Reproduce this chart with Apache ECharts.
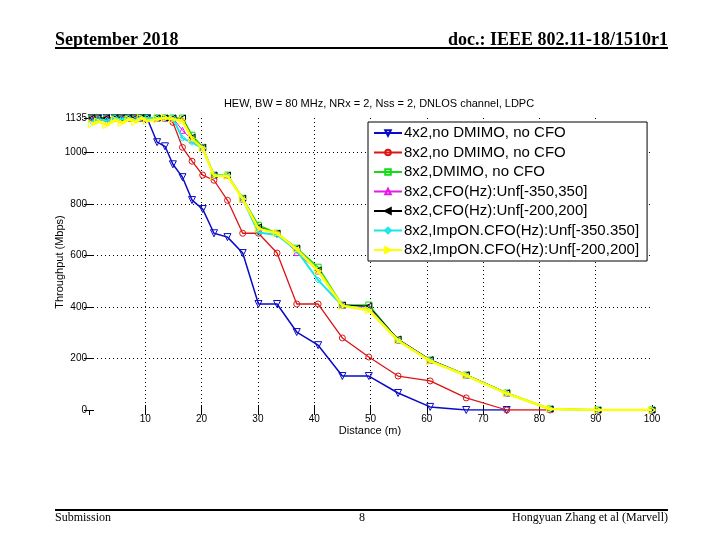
<!DOCTYPE html>
<html>
<head>
<meta charset="utf-8">
<script src="https://cdn.jsdelivr.net/npm/echarts@6/dist/echarts.min.js"></script>
<style>
html,body{margin:0;padding:0;background:#fff;}
#c{width:720px;height:540px;}
</style>
</head>
<body>
<div id="c"></div>
<script>
// ---- data ----
const distances = [0.5,1.6,3.1,4.6,5.8,7.0,8.2,9.2,10.3,12.1,13.5,14.9,16.6,18.3,20.2,22.2,24.6,27.3,30.1,33.4,36.9,40.7,45.0,49.7,54.9,60.6,67.0,74.2,81.9,90.4,100];
const xTicks = [0,10,20,30,40,50,60,70,80,90,100];
const yTicks = [0,200,400,600,800,1000,1135];

const seriesNames = [
  '4x2,no DMIMO, no CFO',
  '8x2,no DMIMO, no CFO',
  '8x2,DMIMO, no CFO',
  '8x2,CFO(Hz):Unf[-350,350]',
  '8x2,CFO(Hz):Unf[-200,200]',
  '8x2,ImpON.CFO(Hz):Unf[-350.350]',
  '8x2,ImpON.CFO(Hz):Unf[-200,200]'
];

const blueVals = [1135,1135,1135,1135,1135,1135,1135,1135,1135,1041,1025,955,905,816,781,687,672,610,412,412,303,252,132,132,66,12,0,0];
const redVals = [1135,1135,1135,1135,1135,1135,1135,1135,1135,1135,1135,1118,1021,967,913,893,815,687,687,610,412,412,280,206,132,113,47,0,0];
const greenVals = [1135,1135,1135,1135,1135,1135,1135,1135,1135,1135,1135,1135,1135,1068,1021,913,913,823,718,687,629,555,408,408,272,194,136,66,4,0,0];
const magentaVals = [1135,1135,1135,1135,1135,1135,1135,1135,1135,1135,1135,1135,1087,1050,1021,913,913,820,705,687,612,540,408,400,272,194,136,66,4,0,0];
const blackVals = [1135,1135,1135,1135,1135,1135,1135,1135,1135,1135,1135,1135,1135,1060,1021,913,913,823,711,687,629,544,408,404,276,196,137,67,4,0,0];
const cyanVals = [1122,1130,1125,1135,1130,1135,1128,1135,1135,1135,1135,1135,1056,1040,1017,913,913,820,690,680,620,505,405,392,270,192,134,64,4,0,0];
const yellowVals = [1112,1122,1108,1128,1116,1130,1120,1135,1124,1130,1135,1130,1125,1055,1017,910,910,820,705,687,625,540,405,388,270,190,134,64,4,0,0];

const allVals = [blueVals, redVals, greenVals, magentaVals, blackVals, cyanVals, yellowVals];

// ---- styles ----
const colors = ['#0a0ac8','#dc1414','#14dc14','#e619e6','#000000','#19e6e6','#ffff00'];
const symbols = ['triangle','circle','rect','triangle','triangle','diamond','triangle'];
const rotations = [180,0,0,0,90,0,-90];
const widths = [1.5,1.3,1.5,1,1,2,2.5];
const sizes = [7,6,6,6,6,6,7];

const chart = echarts.init(document.getElementById('c'), null, {renderer:'canvas'});

const series = allVals.map((vals, k) => ({
  name: seriesNames[k],
  type: 'line',
  data: vals.map((v, i) => [distances[i], v]),
  symbol: symbols[k],
  symbolRotate: rotations[k],
  symbolSize: sizes[k],
  showAllSymbol: true,
  lineStyle: {color: colors[k], width: widths[k]},
  itemStyle: {color: 'rgba(0,0,0,0)', borderColor: colors[k], borderWidth: 1},
  emphasis: {disabled: true},
  z: 2 + k
}));

const sans = '"Liberation Sans", Arial, sans-serif';
const serif = '"Liberation Serif", "Times New Roman", serif';

const xMax = xTicks[xTicks.length-1];
const yMax = yTicks[yTicks.length-1];

chart.setOption({
  animation: false,
  backgroundColor: '#fff',
  grid: {left: 89, right: 68, top: 118, bottom: 130, containLabel: false},
  legend: {
    orient: 'vertical',
    left: 368, top: 122,
    itemWidth: 28, itemHeight: 7, itemGap: 4.5,
    padding: [3.5, 8, 3.5, 5],
    backgroundColor: '#fff',
    borderColor: '#000', borderWidth: 1, borderRadius: 0,
    textStyle: {fontFamily: sans, fontSize: 15, color: '#000', padding: [0,0,0,-3]},
    selectedMode: false,
    data: seriesNames
  },
  xAxis: [{
    type: 'value', min: xTicks[0], max: xMax, interval: 10,
    axisLine: {show: false},
    axisTick: {show: true, inside: true, length: 5, lineStyle: {color: '#000'}},
    axisLabel: {fontFamily: sans, fontSize: 10, color: '#000', margin: 4, showMinLabel: false, formatter: v => String(v)},
    splitLine: {show: true, showMinLine: false, showMaxLine: false, lineStyle: {type: [1,3], color: '#000', width: 1}}
  },{
    type: 'value', position: 'top', min: xTicks[0], max: xMax, interval: 10,
    axisLine: {show: false},
    axisTick: {show: true, inside: true, length: 5, lineStyle: {color: '#000'}},
    axisLabel: {show: false},
    splitLine: {show: false}
  }],
  yAxis: [{
    type: 'value', min: yTicks[0], max: yMax, interval: 200,
    axisLine: {show: false},
    axisTick: {show: true, inside: true, length: 5, lineStyle: {color: '#000'}},
    axisLabel: {fontFamily: sans, fontSize: 10, color: '#000', margin: 2, formatter: v => String(v)},
    splitLine: {show: true, showMinLine: false, showMaxLine: false, lineStyle: {type: [1,3], color: '#000', width: 1}}
  },{
    type: 'value', position: 'right', min: yTicks[0], max: yMax, interval: 200,
    axisLine: {show: false},
    axisTick: {show: true, inside: true, length: 5, lineStyle: {color: '#000'}},
    axisLabel: {show: false},
    splitLine: {show: false}
  }],
  graphic: [
    {type: 'text', x: 379, y: 104, style: {text: 'HEW, BW = 80 MHz, NRx = 2, Nss = 2, DNLOS channel, LDPC', font: '11px ' + sans, fill: '#000', align: 'center', verticalAlign: 'middle'}},
    {type: 'text', x: 60, y: 262, rotation: Math.PI / 2, style: {text: 'Throughput (Mbps)', font: '11px ' + sans, fill: '#000', align: 'center', verticalAlign: 'middle'}},
    {type: 'text', x: 370, y: 431, style: {text: 'Distance (m)', font: '11px ' + sans, fill: '#000', align: 'center', verticalAlign: 'middle'}},
    {type: 'text', x: 55, y: 40, style: {text: 'September 2018', font: 'bold 18px ' + serif, fill: '#000', align: 'left', verticalAlign: 'middle'}},
    {type: 'text', x: 668, y: 40, style: {text: 'doc.: IEEE 802.11-18/1510r1', font: 'bold 18px ' + serif, fill: '#000', align: 'right', verticalAlign: 'middle'}},
    {type: 'line', shape: {x1: 55, y1: 48, x2: 668, y2: 48}, style: {stroke: '#000', lineWidth: 2}},
    {type: 'line', shape: {x1: 55, y1: 510, x2: 668, y2: 510}, style: {stroke: '#000', lineWidth: 2}},
    {type: 'text', x: 55, y: 518, style: {text: 'Submission', font: '12px ' + serif, fill: '#000', align: 'left', verticalAlign: 'middle'}},
    {type: 'text', x: 362, y: 518, style: {text: '8', font: '12px ' + serif, fill: '#000', align: 'center', verticalAlign: 'middle'}},
    {type: 'text', x: 668, y: 518, style: {text: 'Hongyuan Zhang et al (Marvell)', font: '12px ' + serif, fill: '#000', align: 'right', verticalAlign: 'middle'}}
  ],
  series: series
});
</script>
</body>
</html>
